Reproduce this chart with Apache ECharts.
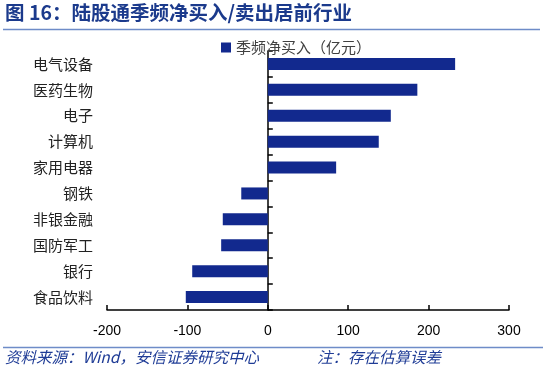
<!DOCTYPE html>
<html>
<head>
<meta charset="utf-8">
<script src="https://cdn.jsdelivr.net/npm/echarts@6/dist/echarts.min.js"></script>
<style>
html,body{margin:0;padding:0;background:#fff;}
#chart{width:550px;height:372px;}
</style>
</head>
<body>
<div id="chart"></div>
<script>
var categories = ['电气设备','医药生物','电子','计算机','家用电器','钢铁','非银金融','国防军工','银行','食品饮料'];
var netBuy = [233, 186, 153, 138, 85, -33, -56, -58, -94, -102];
var seriesName = '季频净买入（亿元）';
var xTicks = [-200, -100, 0, 100, 200, 300];
var titleText = '图 16：陆股通季频净买入/卖出居前行业';
var sourceText = '资料来源：Wind，安信证券研究中心';
var noteText = '注：存在估算误差';

var chart = echarts.init(document.getElementById('chart'), null, {renderer:'canvas'});
var cjk = '"Noto Sans CJK SC", "Liberation Sans", sans-serif';
var option = {
  animation: false,
  backgroundColor: '#fff',
  grid: {left: 107, right: 41, top: 51, bottom: 62, containLabel: false},
  legend: {
    data: [seriesName],
    left: 221, top: 40, padding: 0,
    itemWidth: 10, itemHeight: 10, itemGap: 5,
    icon: 'rect',
    textStyle: {fontSize: 15, color: '#404040', fontFamily: cjk}
  },
  xAxis: {
    type: 'value',
    min: xTicks[0], max: xTicks[xTicks.length-1], interval: 100,
    axisLine: {show: true, onZero: false, lineStyle: {color: '#000', width: 1.5}},
    axisTick: {show: true, inside: true, length: 5, lineStyle: {color: '#000', width: 1.5}},
    splitLine: {show: false},
    axisLabel: {fontSize: 14, color: '#000', margin: 14, fontFamily: '"Liberation Sans", Arial, sans-serif'}
  },
  yAxis: [{
    type: 'category',
    data: categories,
    inverse: true,
    position: 'left',
    axisLine: {show: false, onZero: false},
    axisTick: {show: false},
    axisLabel: {fontSize: 15, color: '#222', margin: 14, fontFamily: cjk}
  }, {
    type: 'category',
    data: categories,
    inverse: true,
    position: 'left',
    axisLine: {show: true, onZero: true, lineStyle: {color: '#000', width: 1.5}},
    axisTick: {show: true, inside: true, length: 5, lineStyle: {color: '#000', width: 1.5}},
    axisLabel: {show: false}
  }],
  series: [{
    name: seriesName,
    type: 'bar',
    data: netBuy,
    barWidth: 12,
    yAxisIndex: 0,
    itemStyle: {color: '#12298E'}
  }],
  graphic: [
    {type: 'text', left: 5, top: 3, style: {text: titleText, fontSize: 19.5, fontWeight: 'bold', fill: '#1B3A8C', fontFamily: cjk}},
    {type: 'line', shape: {x1: 3, y1: 29.5, x2: 540, y2: 29.5}, style: {stroke: '#6E8CC8', lineWidth: 1.5}},
    {type: 'line', shape: {x1: 3, y1: 347.5, x2: 543, y2: 347.5}, style: {stroke: '#6E8CC8', lineWidth: 1.5}},
    {type: 'text', left: 5, top: 349, style: {text: sourceText, fontSize: 15.5, fontStyle: 'italic', fill: '#1F3C96', fontFamily: cjk}},
    {type: 'text', left: 317, top: 349, style: {text: noteText, fontSize: 15.5, fontStyle: 'italic', fill: '#1F3C96', fontFamily: cjk}}
  ]
};
chart.setOption(option);
</script>
</body>
</html>
